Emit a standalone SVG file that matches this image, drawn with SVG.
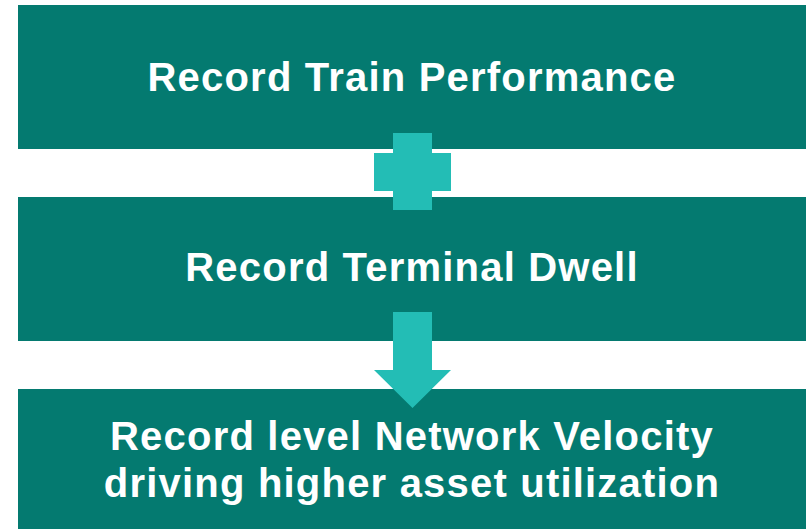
<svg xmlns="http://www.w3.org/2000/svg" width="806" height="529" viewBox="0 0 806 529">
<style>
.box{fill:#047A70}
.sym{fill:#23BDB5}
.t{fill:#FFFFFF;font-family:"Liberation Sans",Arial,sans-serif;font-weight:bold;font-size:40px;letter-spacing:1.2px;text-anchor:middle}
</style>
<rect width="806" height="529" fill="#FFFFFF"/>
<g id="node-train">
<rect class="box" x="18" y="5" width="788" height="144"/>
<text class="t" x="412" y="91">Record Train Performance</text>
</g>
<g id="node-dwell">
<rect class="box" x="18" y="197" width="788" height="144"/>
<text class="t" x="412" y="281">Record Terminal Dwell</text>
</g>
<g id="node-velocity">
<rect class="box" x="18" y="389" width="788" height="140"/>
<text class="t" x="412" y="450">Record level Network Velocity</text>
<text class="t" x="412" y="497">driving higher asset utilization</text>
</g>
<g id="connectors">
<path class="sym" d="M393 133H432V153H451V191H432V210H393V191H374V153H393Z"/>
<path class="sym" d="M393 312H432V370H451L412.5 408L374 370H393Z"/>
</g>
</svg>
